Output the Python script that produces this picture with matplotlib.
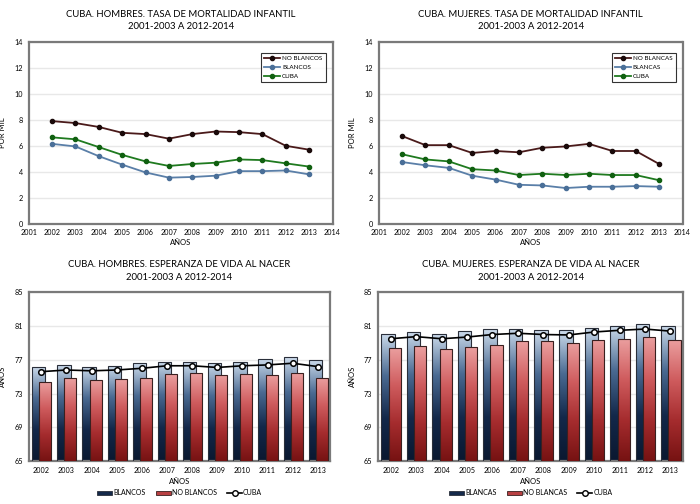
import numpy as np
import matplotlib.pyplot as plt
from matplotlib.patches import Patch
from matplotlib.lines import Line2D
from matplotlib.colors import LinearSegmentedColormap

plt.rcParams['font.family'] = ['Lato', 'DejaVu Sans']

# tasa de mortalidad infantil (por mil)
anios_tmi = [2002, 2003, 2004, 2005, 2006, 2007, 2008, 2009, 2010, 2011, 2012, 2013]
tmi_h_no_blancos = [7.9, 7.75, 7.45, 7.0, 6.9, 6.55, 6.9, 7.1, 7.05, 6.9, 6.0, 5.7]
tmi_h_blancos = [6.15, 5.95, 5.2, 4.55, 3.95, 3.55, 3.6, 3.7, 4.05, 4.05, 4.1, 3.8]
tmi_h_cuba = [6.65, 6.5, 5.9, 5.3, 4.8, 4.45, 4.6, 4.7, 4.95, 4.9, 4.65, 4.4]

tmi_m_no_blancas = [6.75, 6.05, 6.05, 5.45, 5.6, 5.5, 5.85, 5.95, 6.15, 5.6, 5.6, 4.6]
tmi_m_blancas = [4.75, 4.5, 4.3, 3.7, 3.4, 3.0, 2.95, 2.75, 2.85, 2.85, 2.9, 2.85]
tmi_m_cuba = [5.35, 4.95, 4.8, 4.2, 4.1, 3.75, 3.85, 3.75, 3.85, 3.75, 3.75, 3.35]

# esperanza de vida al nacer (años)
anios_ev = ['2002', '2003', '2004', '2005', '2006', '2007', '2008', '2009', '2010', '2011', '2012', '2013']
ev_h_blancos = [76.2, 76.4, 76.2, 76.3, 76.6, 76.8, 76.7, 76.6, 76.8, 77.1, 77.3, 77.0]
ev_h_no_blancos = [74.4, 74.8, 74.6, 74.7, 74.9, 75.3, 75.4, 75.2, 75.3, 75.2, 75.4, 74.9]
ev_h_cuba = [75.6, 75.8, 75.7, 75.8, 76.0, 76.3, 76.3, 76.1, 76.3, 76.4, 76.6, 76.2]

ev_m_blancas = [80.1, 80.35, 80.1, 80.4, 80.6, 80.7, 80.5, 80.5, 80.8, 81.0, 81.2, 81.0]
ev_m_no_blancas = [78.4, 78.6, 78.3, 78.5, 78.8, 79.2, 79.2, 79.0, 79.4, 79.5, 79.7, 79.4]
ev_m_cuba = [79.5, 79.75, 79.5, 79.7, 80.0, 80.15, 80.0, 79.95, 80.3, 80.5, 80.65, 80.4]

cmap_azul = LinearSegmentedColormap.from_list('azul', ['#0a1830', '#13284a', '#4a6a92', '#cddcec'])
cmap_rojo = LinearSegmentedColormap.from_list('rojo', ['#761212', '#a52c2e', '#cf5c5e', '#eba0a0'])

GRIS = '#7a7a7a'


def estilo(ax):
    for s in ax.spines.values():
        s.set_color(GRIS)
        s.set_linewidth(1.6)
    ax.tick_params(length=0, labelsize=5.2, pad=4)
    ax.grid(axis='y', color='#e8e8e8', linewidth=1)
    ax.set_axisbelow(True)


def grafico_tmi(ax, titulo, series):
    estilo(ax)
    for nombre, vals, color, mcolor in series:
        ax.plot(anios_tmi, vals, color=color, marker='o', markersize=3,
                markerfacecolor=mcolor, markeredgecolor=mcolor, linewidth=1.3, label=nombre)
    ax.set_xlim(2001, 2014)
    ax.set_ylim(0, 14)
    ax.set_xticks(range(2001, 2015))
    ax.set_yticks(range(0, 15, 2))
    ax.set_xlabel('AÑOS', fontsize=5.5, labelpad=2)
    ax.set_ylabel('POR MIL', fontsize=5.5, labelpad=6)
    ax.set_title(titulo, fontsize=6.8, pad=9, linespacing=1.5)
    leg = ax.legend(loc='upper right', bbox_to_anchor=(0.977, 0.94), fontsize=4.5,
                    fancybox=False, edgecolor='black', handlelength=2.6, borderpad=0.5,
                    labelspacing=0.55, handletextpad=0.3, borderaxespad=0)
    leg.get_frame().set_linewidth(0.8)


def barras_gradiente(ax, bars, cmap, ymin, z):
    grad = np.linspace(1, 0, 256).reshape(-1, 1)
    for b in bars:
        x0 = b.get_x()
        w = b.get_width()
        top = b.get_y() + b.get_height()
        im = ax.imshow(grad, cmap=cmap, aspect='auto', extent=[x0, x0 + w, ymin, top],
                       zorder=z, interpolation='bilinear')
        im.set_clip_path(b)


def grafico_ev(ax, titulo, blanco, no_blanco, cuba, nb, nnb):
    estilo(ax)
    x = np.arange(len(anios_ev))
    b1 = ax.bar(x - 0.10, blanco, width=0.53, facecolor='none', edgecolor='#2a2f3a',
                linewidth=0.8, zorder=3)
    barras_gradiente(ax, b1, cmap_azul, 65, 2.5)
    b2 = ax.bar(x + 0.16, no_blanco, width=0.48, facecolor='none', edgecolor='#3a2020',
                linewidth=0.8, zorder=4)
    barras_gradiente(ax, b2, cmap_rojo, 65, 3.5)
    ax.plot(x, cuba, color='black', linewidth=1.2, marker='o', markersize=4,
            markerfacecolor='white', markeredgecolor='black', markeredgewidth=1.1, zorder=5)
    ax.set_xlim(-0.5, len(anios_ev) - 0.5)
    ax.set_ylim(65, 85)
    ax.set_xticks(x)
    ax.set_xticklabels(anios_ev)
    ax.set_yticks([65, 69, 73, 77, 81, 85])
    ax.set_xlabel('AÑOS', fontsize=5.5, labelpad=3)
    ax.set_ylabel('AÑOS', fontsize=5.5, labelpad=6)
    ax.set_title(titulo, fontsize=6.8, pad=9, linespacing=1.5)
    handles = [Patch(facecolor='#14294a', edgecolor='#2a2f3a', linewidth=0.6),
               Patch(facecolor='#b84042', edgecolor='#3a2020', linewidth=0.6),
               Line2D([], [], color='black', marker='o', markerfacecolor='white',
                      markeredgecolor='black', markersize=4, linewidth=1.2)]
    ax.legend(handles, [nb, nnb, 'CUBA'], loc='upper center', bbox_to_anchor=(0.5, -0.13),
              ncol=3, frameon=False, fontsize=5, handlelength=2.2, handleheight=0.6,
              columnspacing=1.5, handletextpad=0.1)


fig = plt.figure(figsize=(7, 5.04), dpi=100)

ax1 = fig.add_axes([0.041, 0.556, 0.434, 0.361])
ax2 = fig.add_axes([0.541, 0.556, 0.434, 0.361])
ax3 = fig.add_axes([0.041, 0.085, 0.431, 0.335])
ax4 = fig.add_axes([0.540, 0.085, 0.436, 0.335])

grafico_tmi(ax1, 'CUBA. HOMBRES. TASA DE MORTALIDAD INFANTIL\n2001-2003 A 2012-2014', [
    ('NO BLANCOS', tmi_h_no_blancos, '#4a1a1a', '#1a0a0a'),
    ('BLANCOS', tmi_h_blancos, '#5a7fa8', '#4a6f98'),
    ('CUBA', tmi_h_cuba, '#1f7a1f', '#106010'),
])
grafico_tmi(ax2, 'CUBA. MUJERES. TASA DE MORTALIDAD INFANTIL\n2001-2003 A 2012-2014', [
    ('NO BLANCAS', tmi_m_no_blancas, '#4a1a1a', '#1a0a0a'),
    ('BLANCAS', tmi_m_blancas, '#5a7fa8', '#4a6f98'),
    ('CUBA', tmi_m_cuba, '#1f7a1f', '#106010'),
])
grafico_ev(ax3, 'CUBA. HOMBRES. ESPERANZA DE VIDA AL NACER\n2001-2003 A 2012-2014',
           ev_h_blancos, ev_h_no_blancos, ev_h_cuba, 'BLANCOS', 'NO BLANCOS')
grafico_ev(ax4, 'CUBA. MUJERES. ESPERANZA DE VIDA AL NACER\n2001-2003 A 2012-2014',
           ev_m_blancas, ev_m_no_blancas, ev_m_cuba, 'BLANCAS', 'NO BLANCAS')

fig.savefig('out.png', dpi=100)
